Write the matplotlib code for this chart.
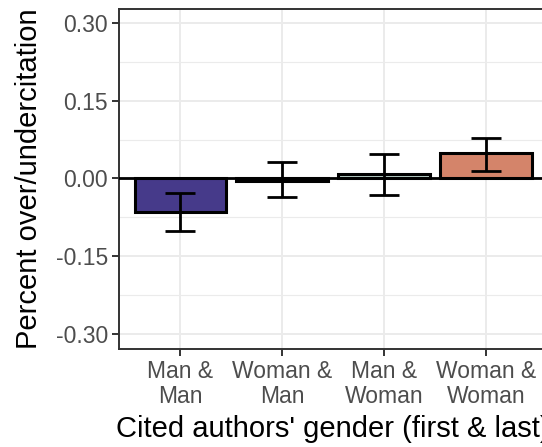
import matplotlib
matplotlib.use("Agg")
import matplotlib.pyplot as plt
import numpy as np
from matplotlib.ticker import FixedLocator

plt.rcParams['font.family'] = ['Liberation Sans', 'DejaVu Sans']

categories = ["Man &\nMan", "Woman &\nMan", "Man &\nWoman", "Woman &\nWoman"]
values = [-0.065, -0.004, 0.009, 0.049]
err_low = [-0.101, -0.036, -0.031, 0.0145]
err_high = [-0.029, 0.031, 0.047, 0.078]
colors = ["#463A8A", "#8E9FC4", "#B7CDC5", "#D4846A"]
yticks = [-0.30, -0.15, 0.00, 0.15, 0.30]

fig = plt.figure(figsize=(5.42, 4.47), dpi=100)
ax = fig.add_axes([119.3 / 542, 1 - 348.7 / 447, (547 - 119.3) / 542, (348.7 - 9.3) / 447])

x = np.arange(1, len(categories) + 1)
ax.set_xlim(0.4, 4.6)
ax.set_ylim(-0.329, 0.327)

# grid
ax.set_axisbelow(True)
ax.yaxis.set_major_locator(FixedLocator(yticks))
ax.yaxis.set_minor_locator(FixedLocator([-0.225, -0.075, 0.075, 0.225]))
ax.grid(True, which='major', color='#EBEBEB', linewidth=1.4, zorder=0)
ax.grid(True, which='minor', axis='y', color='#EBEBEB', linewidth=0.8, zorder=0)

ax.bar(x, values, width=0.9, color=colors, edgecolor='black', linewidth=2.2, zorder=2)
ax.axhline(0, color='black', linewidth=2.0, zorder=3)
vals = np.array(values)
yerr = np.vstack([vals - np.array(err_low), np.array(err_high) - vals])
ax.errorbar(x, vals, yerr=yerr, fmt='none', ecolor='black', elinewidth=2.0,
            capsize=10.5, capthick=2.0, zorder=4)

ax.set_xticks(x)
ax.set_xticklabels(categories, linespacing=1.1)
ax.set_yticklabels([f"{v:.2f}" for v in yticks])
ax.tick_params(axis='both', which='major', length=5, width=1.4, color='#333333',
               labelcolor='#4D4D4D', labelsize=16.5, pad=3)
ax.tick_params(axis='y', which='minor', length=0)

for s in ax.spines.values():
    s.set_color('#333333')
    s.set_linewidth(1.4)

ax.set_ylabel("Percent over/undercitation", fontsize=21, labelpad=9)
ax.set_xlabel("Cited authors' gender (first & last)", fontsize=21, labelpad=5)

fig.savefig("out.png", dpi=100)
